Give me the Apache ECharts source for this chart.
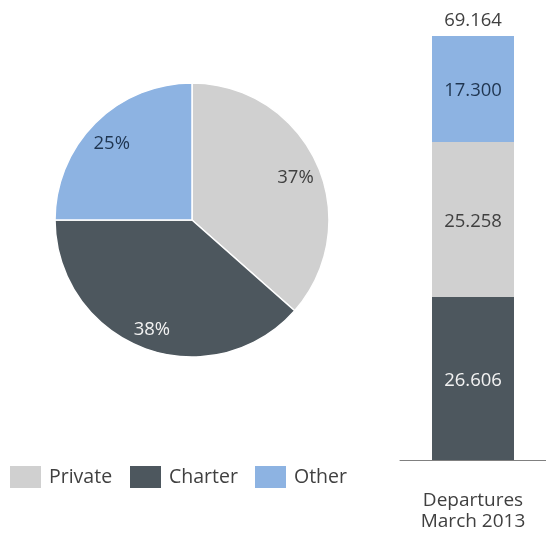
<!DOCTYPE html>
<html>
<head>
<meta charset="utf-8">
<script src="https://cdn.jsdelivr.net/npm/echarts@6/dist/echarts.min.js"></script>
<style>
  html, body { margin: 0; padding: 0; background: #fff; }
  #chart { width: 546px; height: 534px; }
</style>
</head>
<body>
<div id="chart"></div>
<script>
// Departures by flight type, March 2013
const categories = ['Private', 'Charter', 'Other'];
const departures = [25258, 26606, 17300];
const barCategory = ['Departures\nMarch 2013'];
const barOrder = ['Charter', 'Private', 'Other'];

const colors = { Private: '#d0d0d0', Charter: '#4d575e', Other: '#8db3e2' };
const labelColors = { Private: '#404040', Charter: '#f2f2f2', Other: '#1f3550' };
const FONT = '"Open Sans"';

const total = departures.reduce((a, b) => a + b, 0);
const fmt = v => Math.floor(v / 1000) + '.' + String(v % 1000).padStart(3, '0');
const valueOf = name => departures[categories.indexOf(name)];

const pieData = categories.map((c, i) => ({
  name: c, value: departures[i], itemStyle: { color: colors[c] }
}));

const barSeries = barOrder.map(c => ({
  name: c,
  type: 'bar',
  stack: 'dep',
  barWidth: 82,
  data: [valueOf(c)],
  itemStyle: { color: colors[c] },
  label: {
    show: true, position: 'inside',
    formatter: p => fmt(p.value),
    offset: [0, 2],
    color: labelColors[c], fontFamily: FONT, fontSize: 18.5
  },
  silent: true
}));

// zero-height cap that carries the total above the stack
barSeries.push({
  name: 'Total', type: 'bar', stack: 'dep', barWidth: 82,
  data: [0], itemStyle: { color: 'transparent' },
  label: {
    show: true, position: 'top', distance: 6,
    formatter: () => fmt(total),
    color: '#404040', fontFamily: FONT, fontSize: 18.5
  },
  silent: true
});

const legendFor = (name, left) => ({
  data: [name], left: left, top: 466, padding: 0, itemWidth: 31, itemHeight: 22,
  icon: 'rect', selectedMode: false,
  textStyle: { fontFamily: FONT, fontSize: 19.5, color: '#404040', padding: [5, 0, 0, 3] }
});

const option = {
  animation: false,
  backgroundColor: '#ffffff',
  legend: [legendFor('Private', 10), legendFor('Charter', 130), legendFor('Other', 255)],
  grid: { left: 400, right: 0, top: 36, bottom: 74 },
  xAxis: {
    type: 'category', data: barCategory,
    axisLine: { lineStyle: { color: '#808080', width: 1 } },
    axisTick: { show: false },
    axisLabel: { fontFamily: FONT, fontSize: 19, color: '#404040', margin: 30, lineHeight: 21 }
  },
  yAxis: {
    type: 'value', min: 0, max: total, show: false, splitLine: { show: false }
  },
  series: [
    {
      type: 'pie',
      center: [192, 220],
      radius: [0, 137],
      startAngle: 90,
      clockwise: true,
      data: pieData,
      label: { show: false },
      labelLine: { show: false },
      itemStyle: { borderColor: '#ffffff', borderWidth: 1.5 },
      silent: true
    },
    {
      // transparent ring that places the percentage labels
      type: 'pie',
      center: [192, 220],
      radius: [84, 137],
      startAngle: 90,
      clockwise: true,
      data: categories.map((c, i) => ({
        name: c, value: departures[i],
        label: { color: labelColors[c] }
      })),
      itemStyle: { color: 'transparent' },
      label: {
        show: true, position: 'inside',
        formatter: '{d}%', fontFamily: FONT, fontSize: 18.5,
        offset: [0, 4]
      },
      percentPrecision: 0,
      labelLine: { show: false },
      silent: true,
      legendHoverLink: false
    },
    ...barSeries
  ]
};

const chart = echarts.init(document.getElementById('chart'), null, { renderer: 'canvas' });
chart.setOption(option);
</script>
</body>
</html>
